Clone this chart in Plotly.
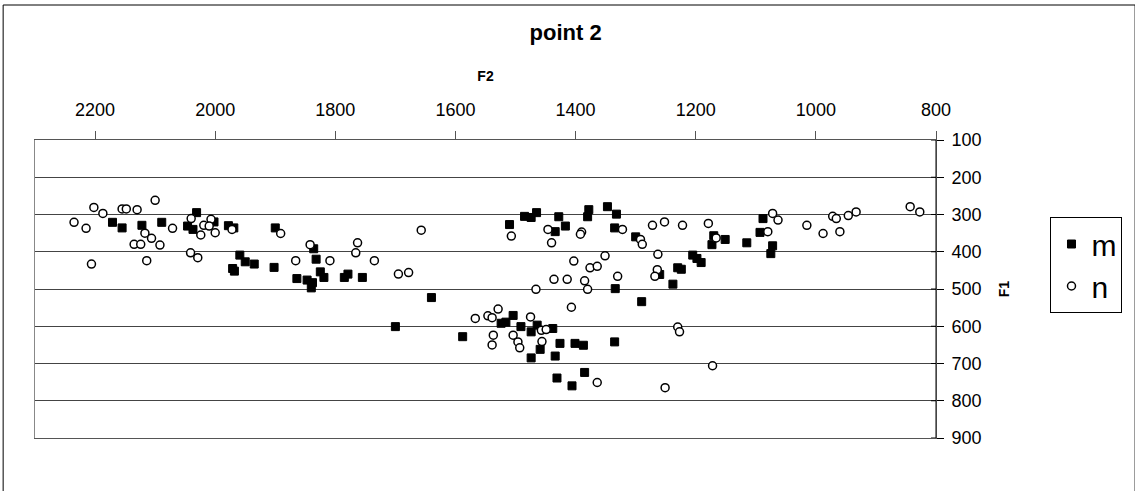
import plotly.graph_objects as go

# ---- data (F2, F1) ----
m_f2 = [2171, 2155, 2122, 2089, 2031, 2046, 2037, 2002, 1978, 1969,
        1959, 1950, 1935, 1971, 1968,
        1900, 1836, 1832, 1902, 1864, 1847, 1838, 1840, 1825, 1819, 1785, 1779, 1755,
        1640, 1700, 1588,
        1504, 1524, 1516, 1491, 1474, 1464, 1438, 1459, 1426, 1401, 1387, 1474, 1434, 1431, 1385, 1406, 1335, 1334,
        1510, 1485, 1474, 1465, 1428, 1417, 1434, 1378, 1380, 1347, 1332, 1335, 1300,
        1290, 1260, 1238, 1230, 1224,
        1205, 1198, 1191, 1170, 1173, 1151, 1115, 1093, 1072, 1075, 1088]
m_f1 = [321, 336, 329, 321, 295, 331, 340, 320, 330, 336,
        409, 427, 433, 445, 452,
        336, 392, 420, 442, 472, 476, 483, 497, 454, 469, 469, 460, 469,
        523, 601, 628,
        571, 592, 589, 601, 615, 597, 606, 662, 646, 646, 651, 685, 680, 739, 724, 760, 642, 499,
        327, 305, 308, 295, 306, 331, 346, 287, 306, 279, 299, 336, 360,
        534, 461, 487, 443, 447,
        409, 418, 429, 357, 381, 367, 376, 348, 384, 405, 311]

n_f2 = [2235, 2215, 2202, 2187, 2155, 2148, 2130, 2100, 2117, 2106, 2135, 2124, 2092, 2071,
        2040, 2019, 2007, 2010, 2024, 2000, 1972, 2041, 2029, 2206, 2114,
        1891, 1842, 1866, 1809, 1763, 1766, 1735, 1657, 1695, 1678,
        1567, 1546, 1539, 1529, 1537, 1539,
        1475, 1457, 1449, 1504, 1496, 1493, 1456, 1364, 1407, 1466, 1436, 1414, 1385, 1380,
        1403, 1376, 1364, 1351, 1330, 1440, 1507, 1446, 1390, 1392,
        1322, 1292, 1289, 1272, 1252, 1222, 1179,
        1263, 1264, 1268, 1230, 1227, 1172, 1251,
        1166, 1080, 1072, 1063, 1015, 988, 972, 966, 960, 946, 933, 843, 827]
n_f1 = [321, 337, 281, 297, 285, 285, 287, 262, 350, 364, 380, 380, 382, 337,
        311, 329, 313, 331, 355, 349, 340, 403, 416, 433, 424,
        351, 381, 424, 424, 376, 403, 424, 342, 460, 456,
        579, 572, 577, 554, 624, 650,
        575, 611, 609, 624, 642, 658, 641, 751, 549, 501, 474, 474, 478, 501,
        425, 443, 439, 411, 466, 376, 358, 340, 347, 353,
        340, 367, 380, 329, 320, 329, 324,
        407, 448, 466, 602, 615, 706, 765,
        363, 346, 297, 315, 329, 351, 305, 311, 346, 303, 293, 279, 293]

x_ticks = [2200, 2000, 1800, 1600, 1400, 1200, 1000, 800]
y_ticks = [100, 200, 300, 400, 500, 600, 700, 800, 900]

W, H = 1135, 491
L, R, T, B = 35, 940, 140, 438


def px(x):
    return (x - L) / (R - L)


def py(y):
    return (B - y) / (B - T)


FONT = "Liberation Sans, Arial, sans-serif"

fig = go.Figure()
fig.add_trace(go.Scatter(
    x=m_f2, y=m_f1, mode="markers", name="m",
    marker=dict(symbol="square", size=8, color="black", line=dict(color="black", width=1))))
fig.add_trace(go.Scatter(
    x=n_f2, y=n_f1, mode="markers", name="n",
    marker=dict(symbol="circle", size=8, color="white", line=dict(color="black", width=1.5))))

fig.update_layout(
    width=W, height=H,
    margin=dict(l=L, r=W - R, t=T, b=H - B, pad=0),
    paper_bgcolor="white", plot_bgcolor="white",
    font=dict(family=FONT, color="black"),
    title=dict(text="<b>point 2</b>", x=px(568), xref="paper", xanchor="center",
               y=1 - 32 / H, yanchor="middle", font=dict(size=22, family=FONT)),
    showlegend=True,
    legend=dict(x=px(1055), y=py(217), xanchor="left", yanchor="top",
                bordercolor="black", borderwidth=1, bgcolor="white",
                font=dict(size=30, family=FONT), itemwidth=30,
                tracegroupgap=0),
    xaxis=dict(
        range=[2300, 800], side="top", tickvals=x_ticks,
        ticks="outside", ticklen=8, tickcolor="#555", tickwidth=1,
        ticklabelstandoff=8,
        showgrid=False, zeroline=False,
        showline=True, linecolor="#555", linewidth=1, mirror=True,
        tickfont=dict(size=18, family=FONT),
        title=dict(text="<b>F2</b>", font=dict(size=14, family=FONT), standoff=14),
    ),
    yaxis=dict(
        range=[900, 100], side="right", tickvals=y_ticks,
        ticks="outside", ticklen=7, tickcolor="black", tickwidth=1,
        ticklabelstandoff=4,
        showgrid=True, gridcolor="#444", gridwidth=1, zeroline=False,
        showline=True, linecolor="#888", linewidth=1, mirror=True,
        tickfont=dict(size=18, family=FONT),
        title=dict(text="<b>F1</b>", font=dict(size=14, family=FONT), standoff=18),
    ),
)

# inner half of the crossing y-axis ticks
for v in y_ticks:
    fig.add_shape(type="line", xref="paper", yref="y", x0=px(935), x1=1, y0=v, y1=v,
                  line=dict(color="black", width=1))
# right axis line darker
fig.add_shape(type="line", xref="paper", yref="paper", x0=1, x1=1, y0=0, y1=1,
              line=dict(color="black", width=1))
# outer chart border
fig.add_shape(type="rect", xref="paper", yref="paper",
              x0=px(3), x1=px(1140), y0=py(500), y1=py(5),
              line=dict(color="black", width=1), fillcolor="rgba(0,0,0,0)", layer="above")

fig.write_html("out.html", config={"displayModeBar": False},
               post_script="document.body.style.margin='0';")
